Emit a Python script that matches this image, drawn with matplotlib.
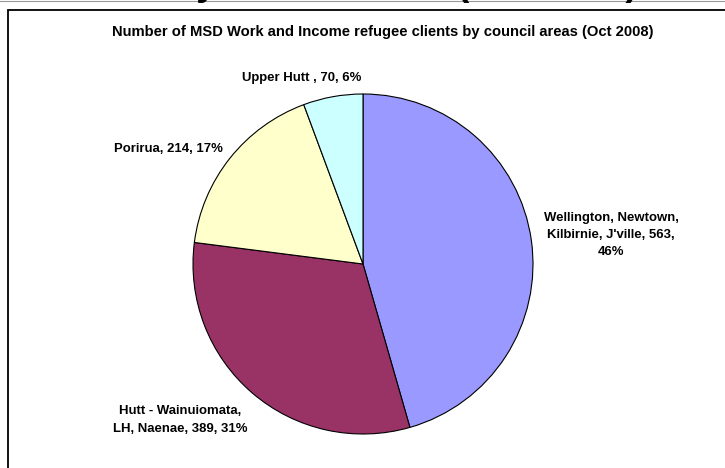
import matplotlib
matplotlib.use("Agg")
import matplotlib.pyplot as plt
from matplotlib.patches import Rectangle

names = ["Wellington, Newtown,\nKilbirnie, J'ville", "Hutt - Wainuiomata,\nLH, Naenae", "Porirua", "Upper Hutt "]
values = [563, 389, 214, 70]
colors = ["#9999FF", "#993366", "#FFFFCC", "#CCFFFF"]
title = "Number of MSD Work and Income refugee clients by council areas (Oct 2008)"
top_title = "Clients by council area (Oct 2008)"

W, H = 725, 468
plt.rcParams['font.family'] = ['Liberation Sans', 'DejaVu Sans']
fig = plt.figure(figsize=(W / 100, H / 100), dpi=100)
fig.patch.set_facecolor("white")
renderer = fig.canvas.get_renderer()


def fx(x):
    return x / W


def fy(y):
    return 1 - y / H


def fit(txt, target_px):
    w = txt.get_window_extent(renderer).width
    txt.set_fontsize(txt.get_fontsize() * target_px / w)


# chart frame (extends past right/bottom edges)
fig.patches.append(Rectangle((fx(8), fy(490)), fx(800), (490 - 10) / H,
                             transform=fig.transFigure, fill=False,
                             edgecolor="black", linewidth=1.3))
fig.add_artist(plt.Line2D([0, 1], [fy(0.5), fy(0.5)], transform=fig.transFigure,
                          color="#999999", lw=0.8))

# page heading clipped by the top edge
fig.text(fx(38), fy(-5), top_title, ha="left", va="baseline",
         fontsize=27, fontweight="bold")

t = fig.text(fx(383), fy(32), title, ha="center", va="center",
             fontsize=10, fontweight="bold")
fit(t, 543)

cx, cy, r = 363, 264, 170
ax = fig.add_axes([fx(cx - r), fy(cy + r), 2 * r / W, 2 * r / H])
ax.pie(values, colors=colors, startangle=90, counterclock=False,
       wedgeprops=dict(edgecolor="black", linewidth=0.8))
ax.set_xlim(-1, 1)
ax.set_ylim(-1, 1)
ax.set_aspect("auto")
ax.axis("off")

probe = fig.text(0, 0, "Wellington, Newtown,", fontsize=9.5, fontweight="bold")
fit(probe, 136)
lab_fs = probe.get_fontsize()
probe.remove()

total = sum(values)
labels = [f"{n}, {v}, {round(100 * v / total)}%" for n, v in zip(names, values)]
labels[0] = "Wellington, Newtown,\nKilbirnie, J'ville, 563,\n46%"
pos = [(611, 235), (180, 420), (168, 149), (302, 78)]
for lab, (x, y) in zip(labels, pos):
    fig.text(fx(x), fy(y), lab, ha="center", va="center", fontsize=lab_fs,
             fontweight="bold", multialignment="center", linespacing=1.6)

fig.savefig("out.png", dpi=100)
